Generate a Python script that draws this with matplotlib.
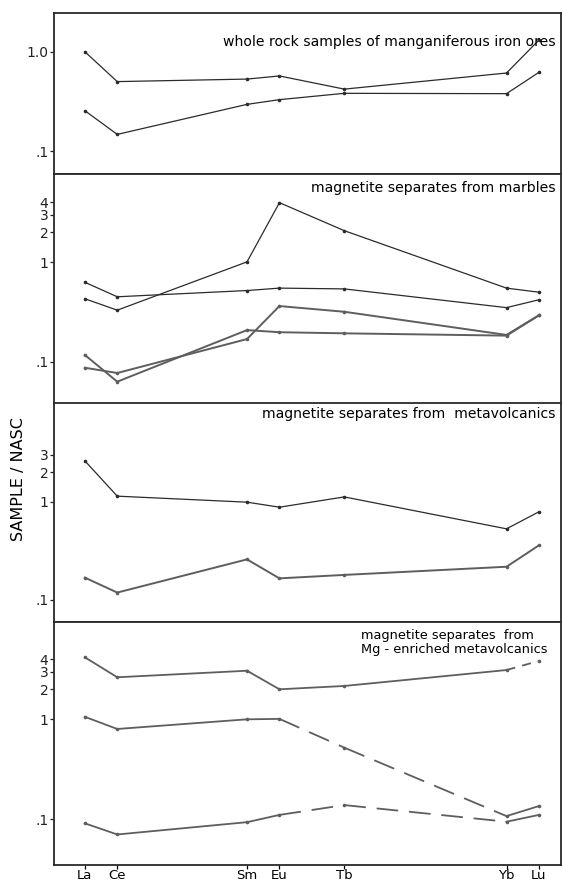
import numpy as np
import matplotlib.pyplot as plt

# REE normalised to NASC, x = atomic number
elements = ["La", "Ce", "Sm", "Eu", "Tb", "Yb", "Lu"]
atomic_no = [57, 58, 62, 63, 65, 70, 71]

ores_a = [1.0, 0.50, 0.53, 0.57, 0.42, 0.61, 1.31]
ores_b = [0.255, 0.147, 0.295, 0.329, 0.381, 0.378, 0.62]

marble_a = [0.43, 0.33, 1.01, 3.98, 2.08, 0.55, 0.50]
marble_b = [0.63, 0.45, 0.52, 0.55, 0.54, 0.35, 0.42]
marble_c = [0.117, 0.063, 0.208, 0.198, 0.193, 0.183, 0.293]
marble_d = [0.087, 0.077, 0.169, 0.363, 0.318, 0.186, 0.293]

volc_a = [2.61, 1.14, 0.99, 0.88, 1.12, 0.53, 0.79]
volc_b = [0.169, 0.119, 0.259, 0.166, 0.180, 0.218, 0.360]

mg_a = [4.19, 2.64, 3.07, 2.0, 2.16, 3.12, 3.85]
mg_b = [1.06, 0.80, 1.0, 1.01, 0.52, 0.107, 0.135]
mg_c = [0.0906, 0.070, 0.093, 0.110, 0.138, 0.094, 0.110]

titles = ["whole rock samples of manganiferous iron ores",
          "magnetite separates from marbles",
          "magnetite separates from  metavolcanics",
          "magnetite separates  from\nMg - enriched metavolcanics"]
yticks = [[0.1, 1.0], [0.1, 1, 2, 3, 4], [0.1, 1, 2, 3], [0.1, 1, 2, 3, 4]]
yticklabels = [[".1", "1.0"], [".1", "1", "2", "3", "4"], [".1", "1", "2", "3"], [".1", "1", "2", "3", "4"]]

dark = "#2b2b2b"
grey = "#5e5e5e"
SOLID = None
LONG = (12, 6)
SHORT = (5, 4)


def draw(ax, vals, color, lw, styles=None):
    if styles is None:
        styles = [SOLID] * (len(vals) - 1)
    for i in range(len(vals) - 1):
        ln, = ax.plot(atomic_no[i:i + 2], vals[i:i + 2], c=color, lw=lw)
        if styles[i] is not None:
            ln.set_dashes(styles[i])
    ax.plot(atomic_no, vals, "o", c=color, ms=2.6, mec="none")


plt.rc('font', family='DejaVu Sans')
fig = plt.figure(figsize=(5.63, 8.83), dpi=100)
left, width = 54 / 563, 507 / 563
bounds = [(12.7, 174), (174, 403.5), (403.5, 622), (622, 864.5)]
ylims = [(0.0587, 2.47), (0.038, 7.73), (0.0597, 10.0), (0.035, 9.46)]
axes = []
for k, (top, bot) in enumerate(bounds):
    ax = fig.add_axes([left, 1 - bot / 883, width, (bot - top) / 883])
    ax.set_yscale("log")
    ax.set_ylim(*ylims[k])
    ax.set_xlim(56.05, 71.68)
    ax.yaxis.set_minor_locator(plt.NullLocator())
    ax.set_yticks(yticks[k])
    ax.set_yticklabels(yticklabels[k])
    ax.tick_params(axis="y", direction="out", length=3, width=0.9, labelsize=10, pad=1, colors="#222")
    for s in ax.spines.values():
        s.set_linewidth(1.3)
        s.set_color("#2a2a2a")
    if k < 3:
        ax.tick_params(axis="x", bottom=False, labelbottom=False)
    axes.append(ax)

ax1, ax2, ax3, ax4 = axes

draw(ax1, ores_a, dark, 0.9)
draw(ax1, ores_b, dark, 0.9)
ax1.text(0.99, 0.82, titles[0], transform=ax1.transAxes, ha="right", va="center", fontsize=10.1)

draw(ax2, marble_a, dark, 0.9)
draw(ax2, marble_b, dark, 0.9)
draw(ax2, marble_c, grey, 1.4)
draw(ax2, marble_d, grey, 1.4)
ax2.text(0.99, 0.94, titles[1], transform=ax2.transAxes, ha="right", va="center", fontsize=10.1)

draw(ax3, volc_a, dark, 0.9)
draw(ax3, volc_b, grey, 1.4)
ax3.text(0.99, 0.95, titles[2], transform=ax3.transAxes, ha="right", va="center", fontsize=10.1)

draw(ax4, mg_a, grey, 1.3, [SOLID, SOLID, SOLID, SOLID, SOLID, SHORT])
draw(ax4, mg_b, grey, 1.3, [SOLID, SOLID, SOLID, LONG, LONG, SOLID])
draw(ax4, mg_c, grey, 1.3, [SOLID, SOLID, SOLID, LONG, LONG, SOLID])
ax4.text(0.606, 0.915, titles[3], transform=ax4.transAxes, ha="left", va="center", fontsize=9.3,
         linespacing=1.05)

ax4.set_xticks(atomic_no)
ax4.set_xticklabels(elements)
ax4.tick_params(axis="x", direction="out", length=3, width=0.9, labelsize=9.5, pad=0.5)

fig.text(0.032, 1 - 479 / 883, "SAMPLE / NASC", rotation=90, ha="center", va="center", fontsize=11.5)

plt.savefig("out.png", dpi=100)
